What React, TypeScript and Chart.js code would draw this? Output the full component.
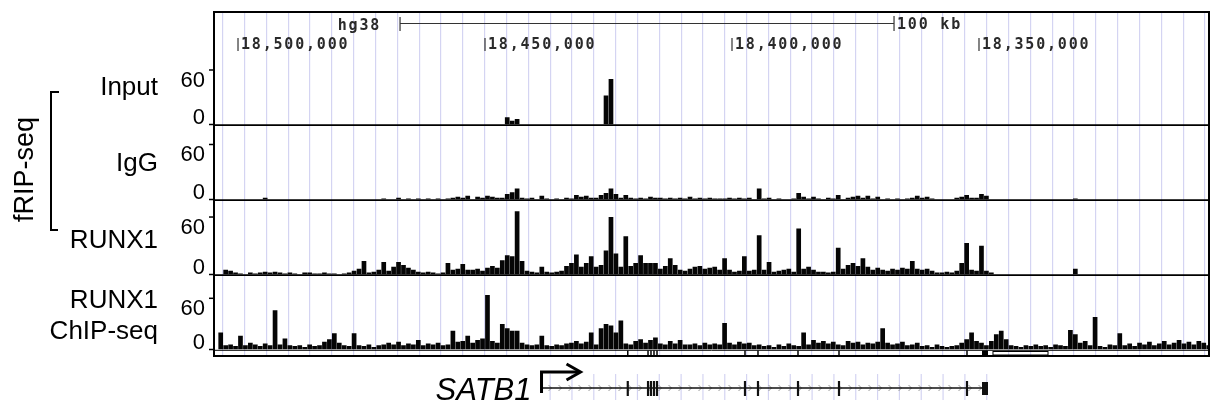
import React, { useEffect, useRef } from "react";
import { Chart, registerables } from "chart.js";

Chart.register(...registerables);

// ---- genome window (hg38 chr3), drawn right-to-left ----
const viewLeftBp = 18504860;
const viewRightBp = 18303440;
const binStartBp = 18504000; // 1-kb bins, bin i covers [binStartBp-(i+1)kb, binStartBp-i kb]
const binSizeBp = 1000;

const coordinateLabels = [18500000, 18450000, 18400000, 18350000];
const guideStartBp = 18503100;
const guideStepBp = 4419;
const scaleBarStartBp = 18467200;
const scaleBarLengthBp = 100000;
const assemblyLabel = "hg38";
const scaleBarLabel = "100 kb";
const axisTickValues = [60, 0];

// ---- signal tracks (1-kb bins, 201 bins each) ----
const inputSignal = [
  0, 0, 0, 0, 0, 0, 0, 0, 0, 0,
  0, 0, 0, 0, 0, 0, 0, 0, 0, 0,
  0, 0, 0, 0, 0, 0, 0, 0, 0, 0,
  0, 0, 0, 0, 0, 0, 0, 0, 0, 0,
  0, 0, 0, 0, 0, 0, 0, 0, 0, 0,
  0, 0, 0, 0, 0, 0, 0, 0, 8, 4,
  6, 0, 0, 0, 0, 0, 0, 0, 0, 0,
  0, 0, 0, 0, 0, 0, 0, 0, 32, 50,
  0, 0, 0, 0, 0, 0, 0, 0, 0, 0,
  0, 0, 0, 0, 0, 0, 0, 0, 0, 0,
  0, 0, 0, 0, 0, 0, 0, 0, 0, 0,
  0, 0, 0, 0, 0, 0, 0, 0, 0, 0,
  0, 0, 0, 0, 0, 0, 0, 0, 0, 0,
  0, 0, 0, 0, 0, 0, 0, 0, 0, 0,
  0, 0, 0, 0, 0, 0, 0, 0, 0, 0,
  0, 0, 0, 0, 0, 0, 0, 0, 0, 0,
  0, 0, 0, 0, 0, 0, 0, 0, 0, 0,
  0, 0, 0, 0, 0, 0, 0, 0, 0, 0,
  0, 0, 0, 0, 0, 0, 0, 0, 0, 0,
  0, 0, 0, 0, 0, 0, 0, 0, 0, 0,
  0,
];

const iggSignal = [
  0, 0, 0, 0, 0, 0, 0, 0, 0, 2,
  0, 0, 0, 0, 0, 0, 0, 0, 0, 0,
  0, 0, 0, 0, 0, 0, 0, 0, 0, 0,
  0, 0, 0, 1, 0, 0, 2, 0, 1, 0,
  1, 0, 1, 0, 1, 0, 1, 2, 3, 2,
  4, 0, 3, 2, 4, 3, 2, 2, 6, 8,
  12, 2, 1, 2, 0, 4, 1, 0, 1, 0,
  2, 1, 5, 3, 4, 2, 2, 5, 7, 12,
  6, 2, 5, 2, 1, 2, 1, 3, 2, 2,
  1, 2, 1, 2, 1, 3, 1, 2, 1, 2,
  1, 1, 1, 2, 1, 2, 1, 2, 0, 12,
  1, 2, 0, 1, 0, 0, 1, 7, 3, 1,
  3, 1, 0, 2, 1, 5, 0, 2, 3, 4,
  2, 4, 1, 3, 0, 1, 0, 1, 0, 1,
  2, 4, 2, 3, 1, 0, 0, 0, 0, 2,
  3, 5, 2, 2, 6, 4, 0, 0, 0, 0,
  0, 0, 0, 0, 0, 0, 0, 0, 0, 0,
  0, 0, 0, 1, 0, 0, 0, 0, 0, 0,
  0, 0, 0, 0, 0, 0, 0, 0, 0, 0,
  0, 0, 0, 0, 0, 0, 0, 0, 0, 0,
  0,
];

const runx1Signal = [
  0, 5, 4, 2, 1, 0, 2, 1, 2, 3,
  2, 3, 2, 1, 2, 1, 0, 2, 2, 1,
  1, 2, 1, 1, 0, 1, 2, 4, 6, 14,
  2, 3, 5, 13, 4, 8, 13, 10, 7, 5,
  3, 2, 3, 2, 1, 2, 12, 5, 6, 11,
  5, 5, 6, 4, 7, 9, 7, 15, 20, 19,
  66, 14, 4, 3, 2, 8, 3, 2, 3, 4,
  9, 12, 21, 8, 12, 19, 8, 10, 25, 60,
  22, 8, 40, 9, 12, 20, 12, 12, 12, 6,
  9, 17, 10, 5, 4, 6, 8, 9, 6, 7,
  8, 5, 17, 5, 3, 4, 19, 4, 5, 41,
  5, 13, 3, 4, 5, 6, 3, 48, 6, 8,
  5, 3, 3, 2, 3, 28, 6, 10, 12, 9,
  17, 8, 5, 7, 5, 4, 6, 5, 7, 6,
  14, 6, 5, 6, 4, 2, 2, 3, 2, 4,
  12, 33, 5, 4, 30, 4, 2, 0, 0, 0,
  0, 0, 0, 0, 0, 0, 0, 0, 0, 0,
  0, 0, 0, 6, 0, 0, 0, 0, 0, 0,
  0, 0, 0, 0, 0, 0, 0, 0, 0, 0,
  0, 0, 0, 0, 0, 0, 0, 0, 0, 0,
  0,
];

const chipSignal = [
  20, 5, 6, 4, 16, 5, 8, 6, 4, 7,
  5, 46, 6, 13, 5, 4, 5, 3, 6, 4,
  5, 9, 12, 19, 8, 5, 4, 19, 5, 4,
  6, 3, 5, 6, 8, 6, 9, 5, 7, 6,
  11, 5, 7, 6, 8, 5, 6, 22, 9, 10,
  16, 8, 11, 13, 64, 10, 8, 30, 25, 22,
  22, 8, 6, 5, 6, 16, 5, 4, 6, 5,
  7, 8, 10, 7, 9, 20, 6, 25, 30, 28,
  20, 34, 7, 6, 10, 12, 8, 11, 14, 7,
  6, 10, 7, 11, 6, 6, 7, 5, 8, 6,
  7, 6, 31, 8, 6, 9, 7, 8, 5, 6,
  4, 5, 3, 6, 4, 7, 5, 4, 20, 6,
  11, 8, 10, 7, 9, 6, 5, 10, 8, 9,
  6, 8, 7, 9, 25, 8, 6, 7, 9, 5,
  6, 8, 4, 5, 3, 6, 4, 3, 4, 5,
  8, 12, 20, 10, 8, 5, 10, 18, 22, 12,
  5, 4, 3, 5, 4, 6, 4, 5, 3, 6,
  5, 4, 23, 18, 8, 10, 5, 38, 4, 3,
  6, 5, 19, 5, 7, 4, 8, 6, 9, 5,
  7, 10, 6, 8, 11, 7, 9, 6, 10, 8,
  5,
];

// ---- gene model (SATB1, minus strand) ----
const geneName = "SATB1";
const geneStartBp = 18438560;
const geneEndBp = 18348180;
const exonBp = [18421100, 18417000, 18416400, 18415790, 18415180, 18397370, 18394740, 18386640, 18378340, 18352430];
const lastExonBp = [18349390, 18348180];
const otherFeatureBp = [18347170, 18336030];

// ---- track layout / style ----
const tracks = [
  { id: "yInput", name: "Input", data: inputSignal, max: 68.8, band: 62.5, order: 5 },
  { id: "yIgG", name: "IgG", data: iggSignal, max: 81.8, band: 75, order: 4 },
  { id: "yRunx", name: "RUNX1", data: runx1Signal, max: 78.3, band: 75, order: 3 },
  { id: "yChip", name: "RUNX1 ChIP-seq", data: chipSignal, max: 87.9, band: 75, order: 2 },
];

const LABEL_FONT = '26px "Liberation Sans", Arial, sans-serif';
const TICK_FONT = '22px "Liberation Sans", Arial, sans-serif';
const MONO_FONT = 'bold 15px "DejaVu Sans Mono", monospace';
const GUIDE_COLOR = "rgb(212,212,242)";

const annotate = {
  id: "annotate",
  afterDatasetsDraw(chart: any) {
    const { ctx, chartArea: ca, scales } = chart;
    const xs = scales.x;
    const px = (bp: number) => xs.getPixelForValue(bp);
    const line = (x1: number, y1: number, x2: number, y2: number) => {
      ctx.beginPath();
      ctx.moveTo(x1, y1);
      ctx.lineTo(x2, y2);
      ctx.stroke();
    };
    ctx.save();
    ctx.strokeStyle = "#000";
    ctx.fillStyle = "#000";

    // track separators
    ctx.lineWidth = 1.6;
    for (const id of ["yInput", "yIgG", "yRunx"]) {
      const y = scales[id].bottom + 0.6;
      line(ca.left, y, ca.right, y);
    }
    ctx.lineWidth = 1;
    const chipBase = scales.yChip.bottom + 0.8;
    line(ca.left, chipBase, ca.right, chipBase);

    // dense gene strip
    const strip = scales.yStrip;
    ctx.lineWidth = 1.5;
    for (const e of exonBp) line(px(e), strip.top + 1, px(e), strip.bottom);
    ctx.fillRect(px(lastExonBp[0]), strip.top + 1, px(lastExonBp[1]) - px(lastExonBp[0]), strip.bottom - strip.top - 1);
    ctx.lineWidth = 1;
    ctx.strokeRect(px(otherFeatureBp[0]), strip.top + 2, px(otherFeatureBp[1]) - px(otherFeatureBp[0]), strip.bottom - strip.top - 3);

    // frame
    ctx.lineWidth = 2;
    ctx.strokeRect(ca.left, ca.top, ca.right - ca.left, ca.bottom - ca.top);

    // header: assembly, scale bar, coordinates
    ctx.font = MONO_FONT;
    (ctx as any).letterSpacing = "1.8px";
    ctx.fillStyle = "#2a2a2a";
    ctx.textBaseline = "alphabetic";
    const sb0 = px(scaleBarStartBp);
    const sb1 = px(scaleBarStartBp - scaleBarLengthBp);
    ctx.textAlign = "right";
    ctx.fillText(assemblyLabel, sb0 - 19, 30);
    ctx.textAlign = "left";
    ctx.fillText(scaleBarLabel, sb1 + 3, 29);
    ctx.strokeStyle = "#333";
    ctx.lineWidth = 1.2;
    line(sb0, 23.5, sb1, 23.5);
    line(sb0, 17, sb0, 31);
    line(sb1, 16, sb1, 31);
    for (const c of coordinateLabels) {
      const x = px(c);
      line(x, 38, x, 51);
      ctx.fillText(c.toLocaleString("en-US"), x + 3, 49);
    }
    (ctx as any).letterSpacing = "0px";

    // y ticks
    ctx.strokeStyle = "#000";
    ctx.fillStyle = "#000";
    ctx.font = TICK_FONT;
    ctx.textAlign = "right";
    ctx.lineWidth = 1.5;
    for (const t of tracks) {
      const s = scales[t.id];
      for (const v of axisTickValues) {
        const y = s.getPixelForValue(v);
        line(ca.left - 5, y, ca.left, y);
        ctx.fillText(String(v), ca.left - 9, v > 0 ? y + 17 : y - 1);
      }
    }

    // track labels
    ctx.font = LABEL_FONT;
    ctx.textAlign = "right";
    ctx.fillText("Input", 158, 95);
    ctx.fillText("IgG", 158, 170.5);
    ctx.fillText("RUNX1", 158, 248);
    ctx.fillText("RUNX1", 158, 308);
    ctx.fillText("ChIP-seq", 158, 339);

    // fRIP-seq bracket
    ctx.lineWidth = 2;
    ctx.beginPath();
    ctx.moveTo(59, 92);
    ctx.lineTo(51, 92);
    ctx.lineTo(51, 230);
    ctx.lineTo(58, 230);
    ctx.stroke();
    ctx.save();
    ctx.translate(33, 169.5);
    ctx.rotate(-Math.PI / 2);
    ctx.textAlign = "center";
    ctx.font = '27px "Liberation Sans", Arial, sans-serif';
    ctx.fillText("fRIP-seq", 0, 0);
    ctx.restore();

    // gene model
    const g0 = px(geneStartBp);
    const g1 = px(geneEndBp);
    const gy = 388;
    ctx.strokeStyle = GUIDE_COLOR;
    ctx.lineWidth = 1.2;
    for (const tk of xs.ticks) {
      const x = px(tk.value);
      if (x > g0 + 2 && x < g1 + 4) line(x, 374, x, 400);
    }
    ctx.strokeStyle = "#999";
    ctx.lineWidth = 1;
    for (let x = g0 + 9; x < g1 - 6; x += 10) {
      ctx.beginPath();
      ctx.moveTo(x - 2, gy - 3);
      ctx.lineTo(x + 1, gy);
      ctx.lineTo(x - 2, gy + 3);
      ctx.stroke();
    }
    ctx.strokeStyle = "#111";
    ctx.lineWidth = 1.4;
    line(g0, gy, g1, gy);
    ctx.lineWidth = 2.2;
    for (const e of exonBp) line(px(e), gy - 7, px(e), gy + 8);
    ctx.fillStyle = "#111";
    ctx.fillRect(px(lastExonBp[0]), gy - 6, px(lastExonBp[1]) - px(lastExonBp[0]), 13);

    // TSS arrow
    ctx.strokeStyle = "#000";
    ctx.lineWidth = 3;
    ctx.lineJoin = "miter";
    ctx.beginPath();
    ctx.moveTo(g0, gy + 5);
    ctx.lineTo(g0, 372);
    ctx.lineTo(g0 + 38, 372);
    ctx.stroke();
    ctx.beginPath();
    ctx.moveTo(g0 + 25, 364);
    ctx.lineTo(g0 + 39, 372);
    ctx.lineTo(g0 + 25, 380);
    ctx.stroke();

    ctx.fillStyle = "#000";
    ctx.font = 'italic 31px "Liberation Sans", Arial, sans-serif';
    ctx.textAlign = "right";
    ctx.fillText(geneName, g0 - 10, 400);

    ctx.restore();
  },
};

export default function App() {
  const canvasRef = useRef<HTMLCanvasElement | null>(null);

  useEffect(() => {
    const canvas = canvasRef.current;
    if (!canvas) return;

    const datasets = tracks.map((t) => ({
      type: "bar" as const,
      label: t.name,
      data: t.data.map((v, i) => ({ x: binStartBp - (i + 0.5) * binSizeBp, y: v })),
      yAxisID: t.id,
      backgroundColor: "#050505",
      borderWidth: 0,
      grouped: false,
      barPercentage: 0.95,
      categoryPercentage: 1,
    }));

    const scales: any = {
      x: {
        type: "linear",
        position: "bottom",
        reverse: true,
        min: viewRightBp,
        max: viewLeftBp,
        offset: false,
        afterBuildTicks: (s: any) => {
          const t: any[] = [];
          for (let v = guideStartBp; v > viewRightBp; v -= guideStepBp) t.push({ value: v });
          s.ticks = t;
        },
        afterFit: (s: any) => {
          s.height = 0;
        },
        ticks: { display: false, autoSkip: false },
        grid: { color: GUIDE_COLOR, lineWidth: 1.2, drawTicks: false, offset: false },
        border: { display: false },
      },
      yHeader: {
        type: "linear", position: "left", display: false, stack: "tracks",
        stackWeight: 50, weight: 6, min: 0, max: 1,
      },
      yStrip: {
        type: "linear", position: "left", display: false, stack: "tracks",
        stackWeight: 6.5, weight: 1, min: 0, max: 1,
      },
    };
    for (const t of tracks) {
      scales[t.id] = {
        type: "linear", position: "left", display: false, stack: "tracks",
        stackWeight: t.band, weight: t.order, min: 0, max: t.max,
      };
    }

    const chart = new Chart(canvas, {
      type: "bar",
      data: { datasets: datasets as any },
      options: {
        responsive: false,
        animation: false,
        events: [],
        layout: { padding: { left: 214, right: 5, top: 12, bottom: 50 } },
        plugins: { legend: { display: false }, tooltip: { enabled: false } },
        scales,
      },
      plugins: [annotate],
    });

    return () => chart.destroy();
  }, []);

  return (
    <div style={{ position: "fixed", left: 0, top: 0, width: 1214, height: 406, background: "#fff" }}>
      <canvas ref={canvasRef} width={1214} height={406} style={{ display: "block" }} />
    </div>
  );
}
